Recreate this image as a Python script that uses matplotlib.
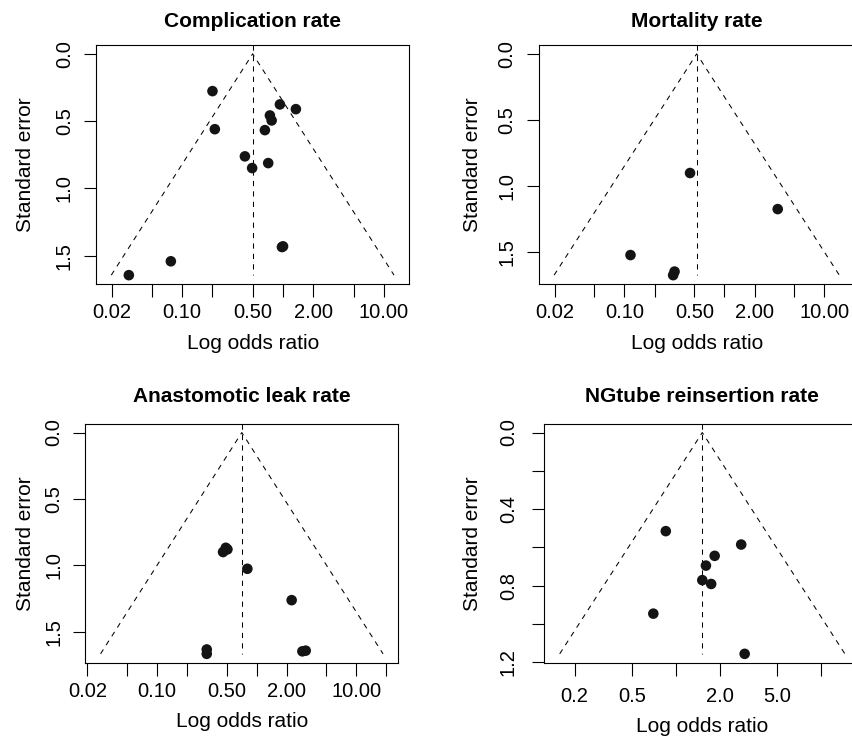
import numpy as np
import matplotlib
matplotlib.use("Agg")
import matplotlib.pyplot as plt
from matplotlib.ticker import FixedLocator, FixedFormatter, NullLocator

plt.rcParams['font.family'] = ['Liberation Sans', 'DejaVu Sans']

# odds ratios and standard errors
titles = ["Complication rate", "Mortality rate", "Anastomotic leak rate", "NGtube reinsertion rate"]

or_compl = [0.200, 0.211, 0.931, 1.34, 0.741, 0.771, 0.661, 0.419, 0.713, 0.494, 0.975, 1.00, 0.0774, 0.0297]
se_compl = [0.277, 0.560, 0.376, 0.411, 0.458, 0.495, 0.567, 0.762, 0.812, 0.849, 1.436, 1.431, 1.542, 1.645]

or_mort = [0.453, 3.41, 0.115, 0.317, 0.307]
se_mort = [0.902, 1.175, 1.523, 1.648, 1.675]

or_leak = [0.489, 0.459, 0.508, 0.805, 2.24, 0.315, 0.315, 2.87, 3.10]
se_leak = [0.867, 0.899, 0.879, 1.025, 1.261, 1.632, 1.665, 1.646, 1.641]

or_ng = [0.851, 2.82, 1.85, 1.61, 1.52, 1.75, 0.698, 2.98]
se_ng = [0.515, 0.585, 0.644, 0.695, 0.771, 0.791, 0.946, 1.156]

pooled = [0.50, 0.528, 0.708, 1.52]

xticks_wide = [0.02, 0.05, 0.1, 0.2, 0.5, 1, 2, 5, 10, 20]
xlabels_wide = ["0.02", "", "0.10", "", "0.50", "", "2.00", "", "10.00", ""]
xticks_ng = [0.2, 0.5, 1, 2, 5, 10]
xlabels_ng = ["0.2", "0.5", "", "2.0", "5.0", ""]

yticks_wide = [0.0, 0.5, 1.0, 1.5]
ylabels_wide = ["0.0", "0.5", "1.0", "1.5"]
yticks_ng = [0.0, 0.2, 0.4, 0.6, 0.8, 1.0, 1.2]
ylabels_ng = ["0.0", "", "0.4", "", "0.8", "", "1.2"]

panels = [
    (or_compl, se_compl, xticks_wide, xlabels_wide, yticks_wide, ylabels_wide),
    (or_mort, se_mort, xticks_wide, xlabels_wide, yticks_wide, ylabels_wide),
    (or_leak, se_leak, xticks_wide, xlabels_wide, yticks_wide, ylabels_wide),
    (or_ng, se_ng, xticks_ng, xlabels_ng, yticks_ng, ylabels_ng),
]

W, H = 852, 737
# axes boxes in pixels: left, top, width, height
boxes = [(96, 45, 313.3, 239), (538.7, 45, 316, 239),
         (85.3, 423.7, 313, 239), (544.3, 423.7, 316, 239)]
title_pads = [13, 13, 15.5, 15.5]
ylab_x = [35, 482, 35, 482]      # pixel x of y-label anchor
xpads = [5, 5, 5, 8.5]
ypads = [7, 7, 7, 10]

fig = plt.figure(figsize=(W / 100, H / 100), dpi=100)

for i, (ors, ses, xt, xl, yt, yl) in enumerate(panels):
    l, t, w, h = boxes[i]
    ax = fig.add_axes([l / W, 1 - (t + h) / H, w / W, h / H])
    ax.set_xscale('log')
    m = max(ses)
    c = pooled[i]
    hw = 1.108 * 1.96 * m
    ax.set_xlim(c * np.exp(-hw), c * np.exp(hw))
    ax.set_ylim(1.04 * m, -0.04 * m)

    # funnel
    fx = [c * np.exp(-1.96 * m), c, c * np.exp(1.96 * m)]
    fy = [m, 0, m]
    ax.plot(fx, fy, color='black', lw=0.75, dashes=(5, 5))
    ax.plot([c, c], [-0.04 * m, m], color='black', lw=0.75, dashes=(5, 5))

    ax.scatter(ors, ses, s=58, color='#141414', edgecolors='none', zorder=3)

    ax.xaxis.set_major_locator(FixedLocator(xt))
    ax.xaxis.set_major_formatter(FixedFormatter(xl))
    ax.xaxis.set_minor_locator(NullLocator())
    ax.yaxis.set_major_locator(FixedLocator(yt))
    ax.yaxis.set_major_formatter(FixedFormatter(yl))

    ax.tick_params(axis='both', direction='out', length=9, width=0.8,
                   labelsize=14.5, colors='black')
    ax.tick_params(axis='x', pad=xpads[i])
    ax.tick_params(axis='y', pad=ypads[i])
    for lab in ax.get_yticklabels():
        lab.set_rotation(90)
        lab.set_va('center')
    for sp in ax.spines.values():
        sp.set_linewidth(0.8)

    ax.set_xlabel("Log odds ratio", fontsize=15, labelpad=8)
    ax.set_ylabel("Standard error", fontsize=15)
    ax.yaxis.set_label_coords((ylab_x[i] - l) / w, 0.5)
    ax.set_title(titles[i], fontsize=15, fontweight='bold', pad=title_pads[i])

fig.savefig("out.png", dpi=100)
